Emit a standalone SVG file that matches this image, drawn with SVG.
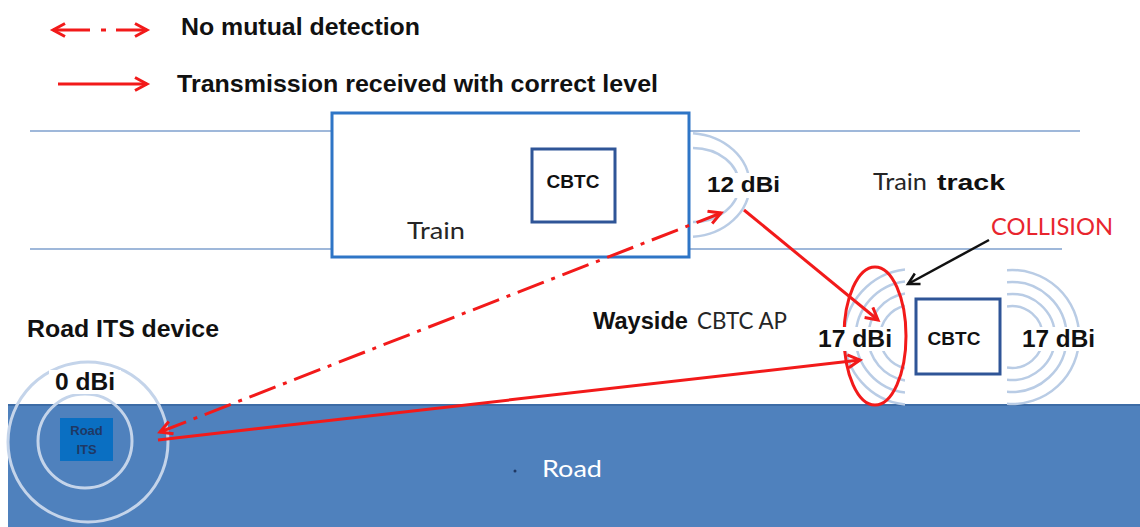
<svg xmlns="http://www.w3.org/2000/svg" width="1140" height="527" viewBox="0 0 1140 527">
<style>
.b{font-family:"Liberation Sans",Arial,sans-serif;font-weight:bold;fill:#111}
.c{font-family:Lato,"Open Sans",sans-serif;fill:#262626}
.track{stroke:#9fb8da;stroke-width:2;fill:none}
.arc{stroke:#b9cce5;stroke-width:2.5;fill:none}
.red{stroke:#f21a1a;stroke-width:3;fill:none}
.bg{fill:#fff}
</style>
<defs>
<marker id="ah" markerWidth="18" markerHeight="18" refX="14" refY="8" orient="auto-start-reverse" markerUnits="userSpaceOnUse">
<path d="M2,1.5 L14,8 L2,14.5" fill="none" stroke="#f21a1a" stroke-width="3" stroke-linejoin="miter"/>
</marker>
<marker id="ahk" markerWidth="18" markerHeight="18" refX="14" refY="8" orient="auto" markerUnits="userSpaceOnUse">
<path d="M3,2 L14,8 L3,14" fill="none" stroke="#111" stroke-width="2.5"/>
</marker>
</defs>
<rect width="1140" height="527" fill="#fff"/>

<g id="legend">
<line class="red" x1="53" y1="30" x2="90" y2="30" marker-start="url(#ah)"/>
<line class="red" x1="101" y1="30" x2="106" y2="30"/>
<line class="red" x1="116" y1="30" x2="147" y2="30" marker-end="url(#ah)"/>
<text class="b" x="181" y="35" font-size="24" textLength="239" lengthAdjust="spacingAndGlyphs">No mutual detection</text>
<line class="red" x1="58" y1="84" x2="147" y2="84" marker-end="url(#ah)"/>
<text class="b" x="177" y="92" font-size="24" textLength="481" lengthAdjust="spacingAndGlyphs">Transmission received with correct level</text>
</g>

<g id="track">
<line class="track" x1="30" y1="131" x2="1080" y2="131"/>
<line class="track" x1="30" y1="249" x2="1062" y2="249"/>
<text x="873" y="190" font-size="23"><tspan class="c" textLength="54" lengthAdjust="spacingAndGlyphs">Train</tspan><tspan class="b" x="937" font-size="22" textLength="68" lengthAdjust="spacingAndGlyphs">track</tspan></text>
</g>

<g id="train">
<rect x="332" y="113" width="357" height="144" fill="#fff" stroke="#2e75c6" stroke-width="3"/>
<rect x="532" y="149" width="83" height="73" fill="#fff" stroke="#2f5597" stroke-width="3"/>
<text class="b" x="573" y="188" font-size="19" text-anchor="middle">CBTC</text>
<text class="c" x="407" y="239" font-size="24" textLength="58" lengthAdjust="spacingAndGlyphs">Train</text>
<path class="arc" d="M693,133.2 A62,52 0 0 1 693,236.8"/>
<path class="arc" d="M693,148 A46,37 0 0 1 693,222"/>
<rect class="bg" x="704" y="173" width="80" height="25"/>
<text class="b" x="707" y="192" font-size="22" textLength="73" lengthAdjust="spacingAndGlyphs">12 dBi</text>
</g>

<g id="road">
<rect x="8" y="404" width="1132" height="123" fill="#4f81bd"/>
<line x1="8" y1="405" x2="1140" y2="405" stroke="#3d6ca6" stroke-width="2"/>
<circle cx="515" cy="471" r="1.5" fill="#1f3864"/>
<text x="542" y="477" font-size="24" font-family="Lato,'Open Sans',sans-serif" fill="#fff" textLength="60" lengthAdjust="spacingAndGlyphs">Road</text>
</g>

<g id="road-its">
<circle cx="88" cy="442" r="80" fill="none" stroke="#c4d4ea" stroke-width="3"/>
<circle cx="85" cy="441" r="47" fill="none" stroke="#c4d4ea" stroke-width="3"/>
<rect x="60" y="418" width="53" height="43" fill="#0a6fc2"/>
<text class="b" x="86.5" y="435" font-size="13" text-anchor="middle" style="fill:#1f3864">Road</text>
<text class="b" x="86.5" y="454" font-size="13" text-anchor="middle" style="fill:#1f3864">ITS</text>
<rect class="bg" x="49" y="370" width="72" height="24"/>
<text class="b" x="55" y="390" font-size="23" textLength="60" lengthAdjust="spacingAndGlyphs">0 dBi</text>
<text class="b" x="27" y="337" font-size="23" textLength="192" lengthAdjust="spacingAndGlyphs">Road ITS device</text>
</g>

<g id="wayside">
<path class="arc" d="M905,269.4 A68,68 0 0 0 905,404.6"/>
<path class="arc" d="M905,281.4 A56,56 0 0 0 905,392.6"/>
<path class="arc" d="M905,293.6 A44,44 0 0 0 905,380.4"/>
<path class="arc" d="M905,305.8 A32,32 0 0 0 905,368.2"/>
<path class="arc" d="M1007,270.2 A67,67 0 1 1 1007,403.8"/>
<path class="arc" d="M1007,282.2 A55,55 0 1 1 1007,391.8"/>
<path class="arc" d="M1007,294.3 A43,43 0 1 1 1007,379.7"/>
<path class="arc" d="M1007,306.4 A31,31 0 1 1 1007,367.6"/>
<rect x="905" y="260" width="102" height="143" fill="#fff"/>
<rect x="916" y="299" width="84" height="75" fill="#fff" stroke="#2f5597" stroke-width="3"/>
<text class="b" x="954" y="345" font-size="19" text-anchor="middle">CBTC</text>
<ellipse class="red" cx="875" cy="336" rx="31" ry="69"/>
<rect class="bg" x="815" y="327" width="80" height="24"/>
<text class="b" x="818" y="347" font-size="23" textLength="74" lengthAdjust="spacingAndGlyphs">17 dBi</text>
<rect class="bg" x="1019" y="327" width="80" height="24"/>
<text class="b" x="1022" y="347" font-size="23" textLength="73" lengthAdjust="spacingAndGlyphs">17 dBi</text>
<text x="593" y="329" font-size="23"><tspan class="b" textLength="95" lengthAdjust="spacingAndGlyphs">Wayside</tspan><tspan class="c" x="697" textLength="90" lengthAdjust="spacingAndGlyphs">CBTC AP</tspan></text>
<text x="991" y="235" font-size="24" font-family="Lato,'Open Sans',sans-serif" fill="#e8252e" textLength="122" lengthAdjust="spacingAndGlyphs">COLLISION</text>
</g>

<g id="connectors">
<line class="red" x1="160" y1="432" x2="721" y2="213" stroke-dasharray="28 8 4 8" marker-start="url(#ah)" marker-end="url(#ah)"/>
<line class="red" x1="744" y1="210" x2="878" y2="320" marker-end="url(#ah)"/>
<line class="red" x1="158" y1="440" x2="860" y2="360" marker-end="url(#ah)"/>
<line x1="989" y1="240" x2="908" y2="284" stroke="#111" stroke-width="2.5" marker-end="url(#ahk)"/>
</g>
</svg>
